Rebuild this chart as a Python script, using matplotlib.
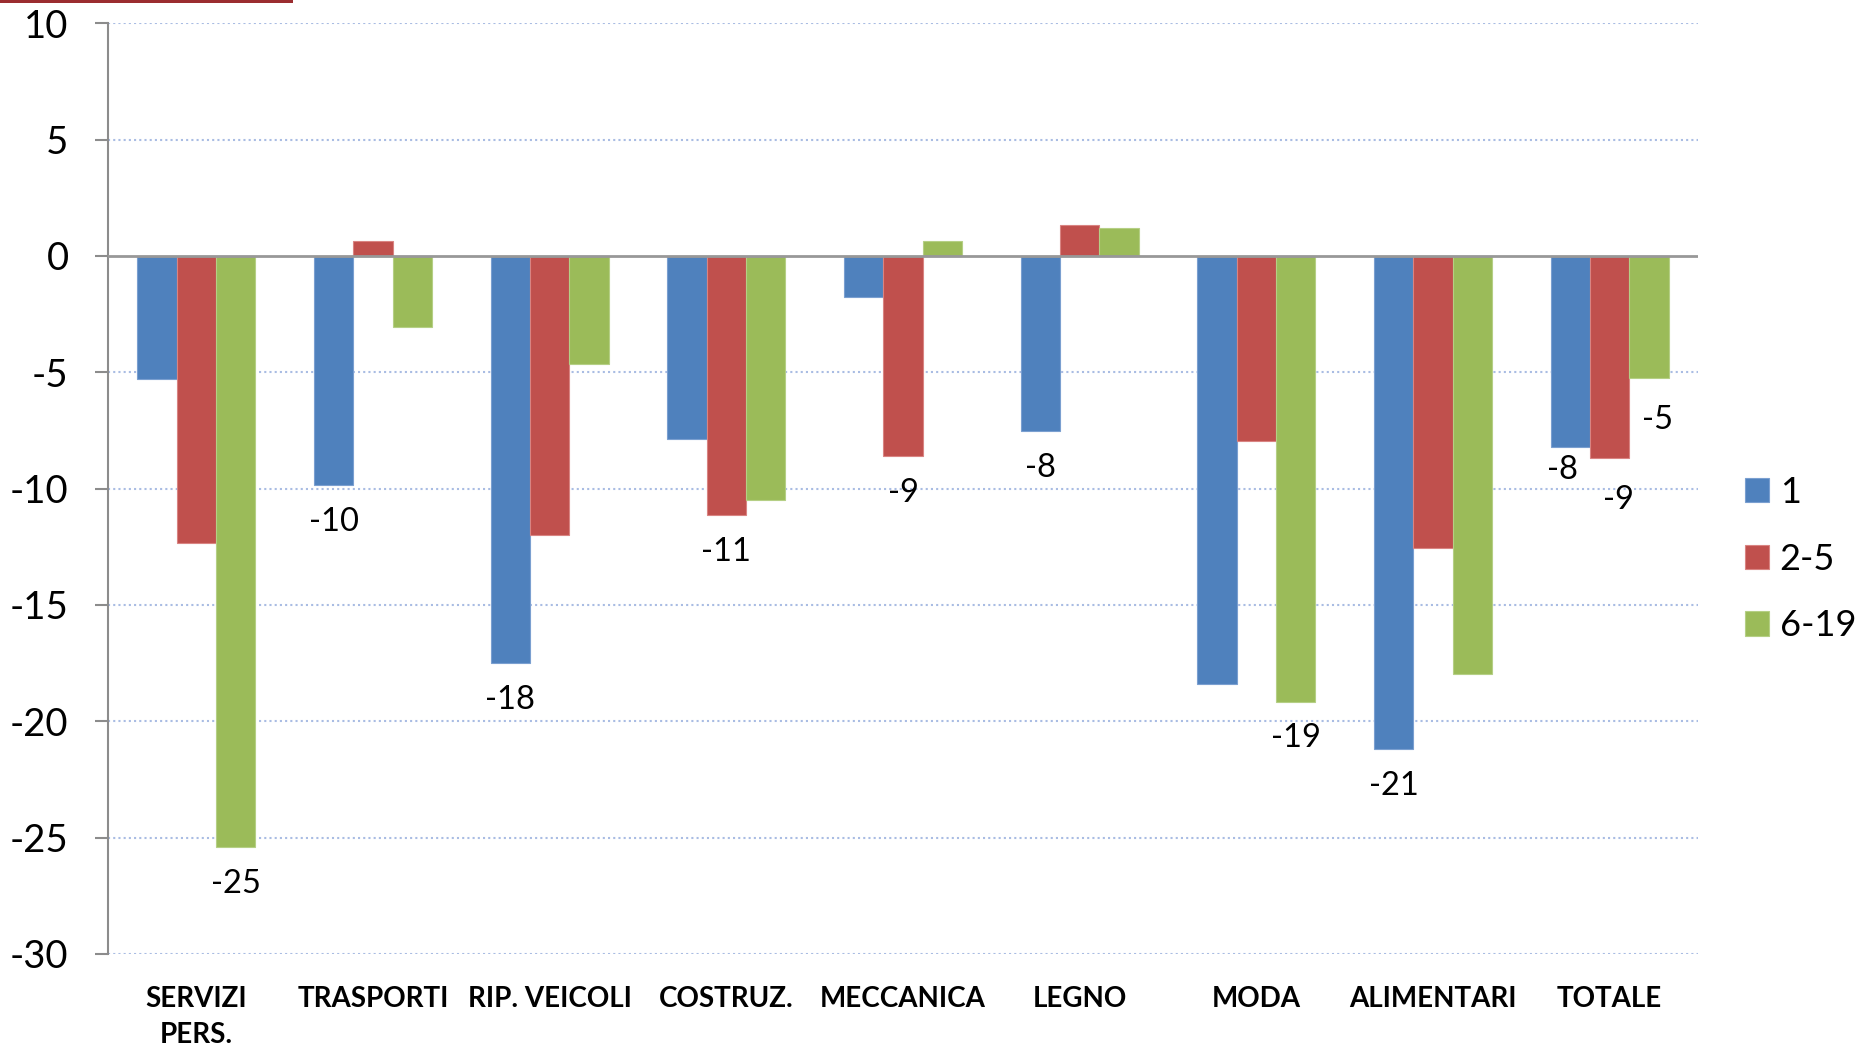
import numpy as np
import matplotlib
matplotlib.use("Agg")
import matplotlib.pyplot as plt
from matplotlib.patches import Rectangle

plt.rcParams['font.family'] = ['Lato', 'DejaVu Sans']
plt.rcParams['axes.unicode_minus'] = False

# dati
categorie = ["SERVIZI\nPERS.", "TRASPORTI", "RIP. VEICOLI", "COSTRUZ.", "MECCANICA",
             "LEGNO", "MODA", "ALIMENTARI", "TOTALE"]
serie = ["1", "2-5", "6-19"]
val_1 = [-5.3, -9.85, -17.51, -7.85, -1.75, -7.51, -18.4, -21.2, -8.2]
val_2_5 = [-12.35, 0.65, -12.0, -11.15, -8.6, 1.35, -7.95, -12.55, -8.7]
val_6_19 = [-25.4, -3.05, -4.65, -10.5, 0.65, 1.2, -19.15, -17.95, -5.25]
valori = [val_1, val_2_5, val_6_19]

# etichette mostrate: (categoria, serie)
etichette = [(0, 2), (1, 0), (2, 0), (3, 1), (4, 1), (5, 0), (6, 2), (7, 0), (8, 0), (8, 1), (8, 2)]

colori = ["#4F81BD", "#C0504D", "#9BBB59"]
bordi = ["#7A9FD0", "#D98482", "#B5CF85"]

fig = plt.figure(figsize=(18.62, 10.47), dpi=100)
ax = fig.add_axes([108 / 1862, 1 - 954 / 1047, 1590 / 1862, (954 - 23.3) / 1047])

x = np.arange(len(categorie))
w = 1 / 4.5
for i, vals in enumerate(valori):
    ax.bar(x + (i - 1) * w, vals, width=w, color=colori[i], edgecolor=bordi[i],
           linewidth=0.8, label=serie[i], zorder=3)

# etichette dati (spostamenti in punti)
offset = {(8, 0): (-6, -17), (8, 1): (6, -30), (8, 2): (6, -30)}
for c, s in etichette:
    v = valori[s][c]
    dx, dy = offset.get((c, s), (0, -26.6))
    ax.annotate(f"{round(v):d}", xy=(x[c] + (s - 1) * w, v), xytext=(dx, dy),
                textcoords="offset points", ha="center", va="center", fontsize=23.5)

ax.set_xlim(-0.5, len(categorie) - 0.5)
ax.set_ylim(-30, 10)
ax.set_yticks(np.arange(-30, 11, 5))
for yv in np.arange(-30, 11, 5):
    if yv != 0:
        ax.axhline(yv, color="#A9BCE3", linewidth=1.5, linestyle=(0, (1, 1.5)), zorder=1)
ax.axhline(0, color="#989898", linewidth=2, zorder=4)

ax.set_xticks(x)
ax.set_xticklabels(categorie, fontweight="bold", fontsize=20, linespacing=1.5, va="top")
ax.tick_params(axis="x", length=0, pad=23)
ax.tick_params(axis="y", length=9.4, width=1.5, color="#8C8C8C", labelsize=27.5, pad=19)

for sp in ["top", "right", "bottom"]:
    ax.spines[sp].set_visible(False)
ax.spines["left"].set_color("#8C8C8C")
ax.spines["left"].set_linewidth(1.5)

fig.legend(loc="upper left", bbox_to_anchor=(1745 / 1862, 1 - 476 / 1047), frameon=False,
           fontsize=26, handlelength=0.66, handleheight=0.66, handletextpad=0.3,
           labelspacing=0.93, borderaxespad=0, borderpad=0)

# linea rossa in alto
fig.add_artist(Rectangle((0, 1 - 3 / 1047), 293 / 1862, 3 / 1047, transform=fig.transFigure,
                         color="#9B2D30", linewidth=0))

fig.savefig("out.png", dpi=100)
